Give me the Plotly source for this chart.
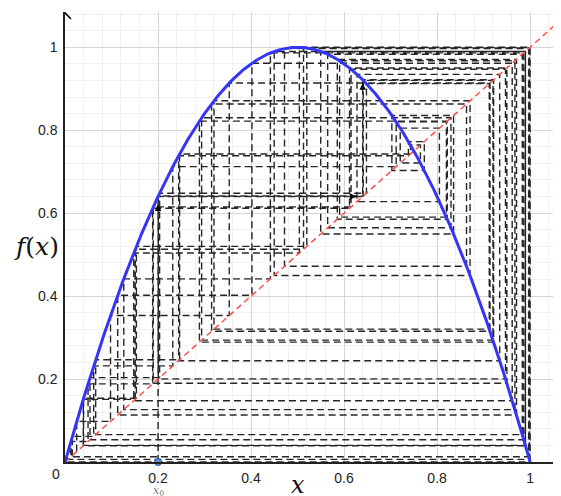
import plotly.graph_objects as go

# ---- data ----
r_param = 4.0
x0 = 0.2
n_iter = 80
x_ticks = [0.2, 0.4, 0.6, 0.8, 1]
x_tick_text = ["0.2", "0.4", "0.6", "0.8", "1"]
y_ticks = [0.2, 0.4, 0.6, 0.8, 1]
y_tick_text = ["0.2", "0.4", "0.6", "0.8", "1"]
x_range = [0, 1.06]
y_range = [0, 1.085]


def f(x):
    return r_param * x * (1 - x)


# curve samples
curve_x = [i / 400 for i in range(401)]
curve_y = [f(v) for v in curve_x]

# cobweb path
cx = [x0]
cy = [0.0]
x = x0
for _ in range(n_iter):
    y = f(x)
    cx.append(x); cy.append(y)
    cx.append(y); cy.append(y)
    x = y

fig = go.Figure()

fig.add_trace(go.Scatter(x=cx, y=cy, mode="lines",
                         line=dict(color="rgba(0,0,0,0.85)", width=1.4, dash="7px,4px"),
                         hoverinfo="skip", showlegend=False))
fig.add_trace(go.Scatter(x=[0, x_range[1]], y=[0, x_range[1]], mode="lines",
                         line=dict(color="#ff4d4d", width=1.5, dash="6px,4px"),
                         hoverinfo="skip", showlegend=False))
fig.add_trace(go.Scatter(x=curve_x, y=curve_y, mode="lines",
                         line=dict(color="#3535f5", width=3),
                         hoverinfo="skip", showlegend=False))
fig.add_trace(go.Scatter(x=[x0], y=[0], mode="markers",
                         marker=dict(color="#5b8fd9", size=7, line=dict(color="#2a5aa8", width=1)),
                         hoverinfo="skip", showlegend=False, cliponaxis=False))

# y-axis arrow
fig.add_shape(type="path", xref="x", yref="y",
              path=f"M {-0.013} {y_range[1]-0.017} L 0 {y_range[1]-0.002} L {0.013} {y_range[1]-0.017}",
              line=dict(color="black", width=1.5))

# small arrowheads on the first cobweb segments
arrows = []
for i in range(3):
    xa, ya = cx[i], cy[i]
    xb, yb = cx[i + 1], cy[i + 1]
    tx = xb - (xb - xa) * 0.06 if xb != xa else xb
    ty = yb - (yb - ya) * 0.06 if yb != ya else yb
    hx = xb - (xb - xa) * 0.03 if xb != xa else xb
    hy = yb - (yb - ya) * 0.03 if yb != ya else yb
    arrows.append(dict(x=hx, y=hy, ax=tx, ay=ty, xref="x", yref="y", axref="x", ayref="y",
                       text="", showarrow=True, arrowhead=2, arrowsize=1, arrowwidth=1.3,
                       arrowcolor="black"))

common = dict(showgrid=True, gridcolor="#d6d6d6", gridwidth=1,
              minor=dict(dtick=0.04, showgrid=True, gridcolor="#f0f0f0", gridwidth=1),
              zeroline=False, showline=True, linecolor="#222", linewidth=1.5,
              ticks="", tickfont=dict(family="Liberation Sans, Arial", size=14, color="#222"),
              fixedrange=True, automargin=False)

fig.update_layout(
    width=553, height=488,
    margin=dict(l=57, r=3, t=4, b=34, autoexpand=False),
    paper_bgcolor="white", plot_bgcolor="white",
    xaxis=dict(range=x_range, tickvals=x_ticks, ticktext=x_tick_text, ticklabelstandoff=2, **common),
    yaxis=dict(range=y_range, tickvals=y_ticks, ticktext=y_tick_text, ticklabelstandoff=3, **common),
    annotations=arrows + [
        dict(x=0, y=0, xref="x", yref="y", text="0", showarrow=False,
             xanchor="right", yanchor="top", xshift=-3, yshift=-2,
             font=dict(family="Liberation Sans, Arial", size=14, color="#222")),
        dict(x=0.5, y=0, xref="x", yref="y", text="<i>x</i>", showarrow=False,
             yanchor="top", yshift=-7,
             font=dict(family="DejaVu Serif, Liberation Serif", size=24, color="#111")),
        dict(x=x0, y=0, xref="x", yref="y", text="<i>x</i><sub>0</sub>", showarrow=False,
             yanchor="top", yshift=-20,
             font=dict(family="DejaVu Serif, Liberation Serif", size=11, color="#777")),
        dict(x=0, y=0.52, xref="x", yref="y", text="<i>f</i>(<i>x</i>)", showarrow=False,
             xanchor="right", xshift=-4,
             font=dict(family="DejaVu Serif, Liberation Serif", size=25, color="#111")),
    ],
)

fig.write_html("out.html")
